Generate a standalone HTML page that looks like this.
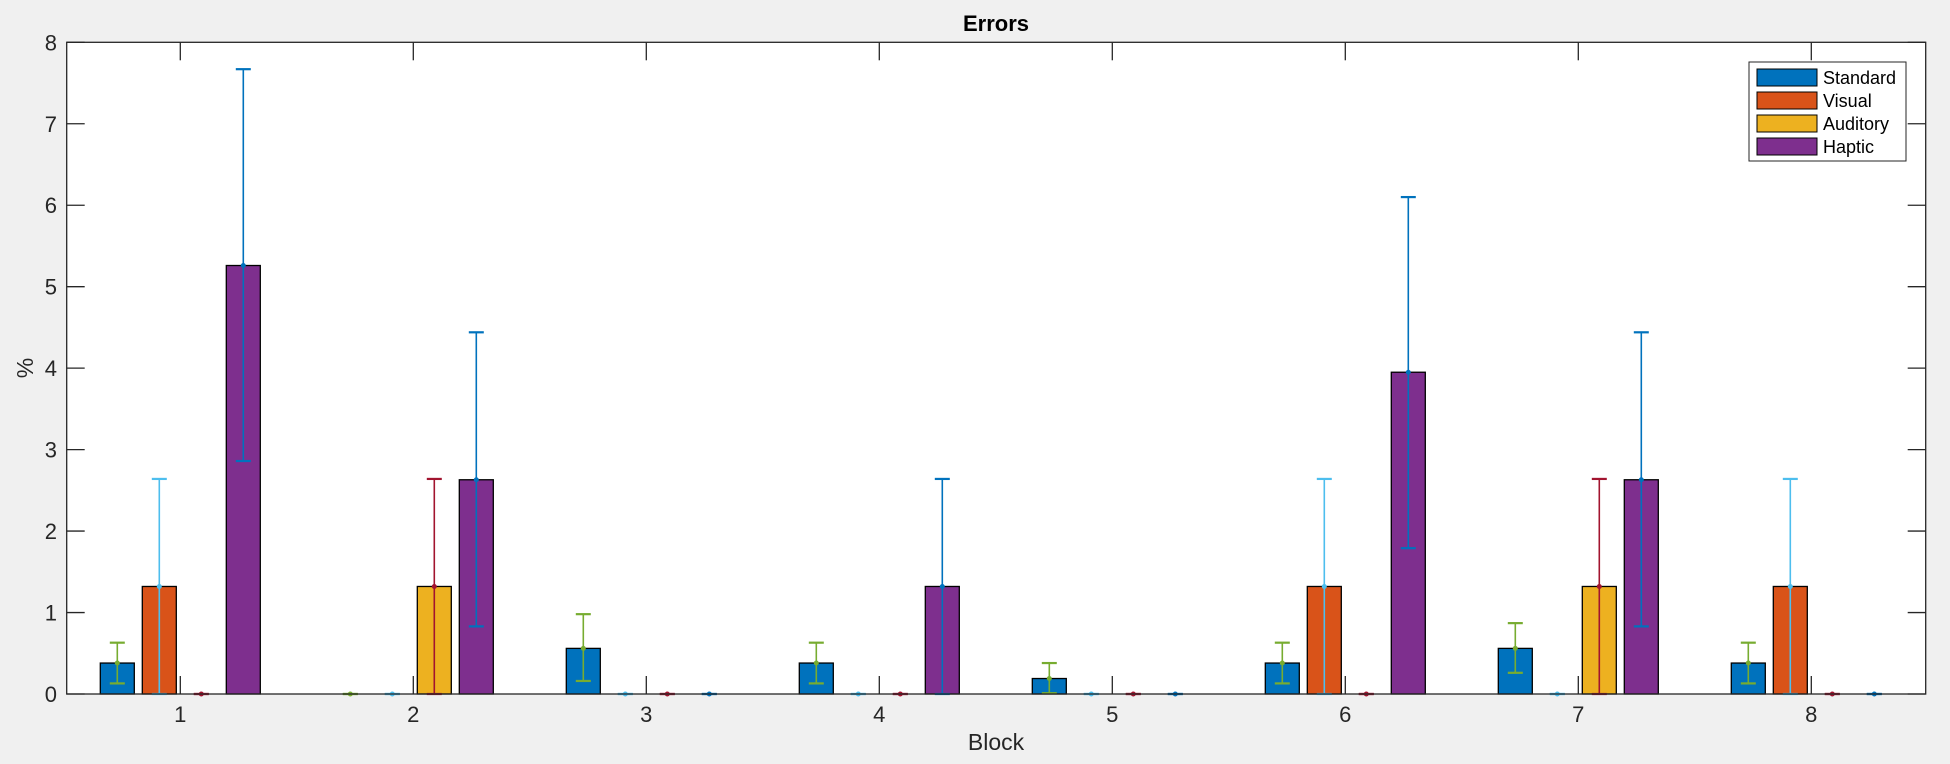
<!DOCTYPE html>
<html><head><meta charset="utf-8"><style>
html,body{margin:0;padding:0;background:#f0f0f0;}
svg{display:block;font-family:"Liberation Sans",Arial,sans-serif;}
</style></head><body>
<svg id="chart" width="1950" height="764" xmlns="http://www.w3.org/2000/svg">
<rect x="0" y="0" width="1950" height="764" fill="#f0f0f0"/>
<rect x="66.7" y="42.3" width="1859" height="651.7" fill="#fff"/>
<g id="marks"></g>
<g id="axes"></g>
<text x="996" y="31" text-anchor="middle" font-size="22" font-weight="bold" fill="#000">Errors</text>
<text x="996" y="750" text-anchor="middle" font-size="23" fill="#262626">Block</text>
<text transform="translate(33,368) rotate(-90)" text-anchor="middle" font-size="23" fill="#262626">%</text>
<g>
<rect x="1749" y="62" width="157" height="99" fill="#fff" stroke="#262626" stroke-width="1"/>
<g id="legend-items"></g>
</g>
</svg>
<script>
const categories = [1,2,3,4,5,6,7,8];
const seriesNames = ["Standard","Visual","Auditory","Haptic"];
const standard = [0.38,0,0.56,0.38,0.19,0.38,0.56,0.38];
const visual = [1.32,0,0,0,0,1.32,0,1.32];
const auditory = [0,1.32,0,0,0,0,1.32,0];
const haptic = [5.26,2.63,0,1.32,0,3.95,2.63,0];
const standardLow = [0.13,0,0.16,0.13,0.01,0.13,0.26,0.13];
const standardHigh = [0.63,0,0.98,0.63,0.38,0.63,0.87,0.63];
const visualLow = [0,0,0,0,0,0,0,0];
const visualHigh = [2.64,0,0,0,0,2.64,0,2.64];
const auditoryLow = [0,0,0,0,0,0,0,0];
const auditoryHigh = [0,2.64,0,0,0,0,2.64,0];
const hapticLow = [2.86,0.83,0,0,0,1.79,0.83,0];
const hapticHigh = [7.67,4.44,0,2.64,0,6.1,4.44,0];
const yTicks = [0,1,2,3,4,5,6,7,8];

const NS="http://www.w3.org/2000/svg";
const fills=["#0072BD","#D95319","#EDB120","#7E2F8E"];
const errColors=["#77AC30","#4DBEEE","#A2142F","#0072BD"];
const values=[standard,visual,auditory,haptic];
const lows=[standardLow,visualLow,auditoryLow,hapticLow];
const highs=[standardHigh,visualHigh,auditoryHigh,hapticHigh];
const X0=66.7,X1=1925.7,Y0=694,Y1=42.3;
function xs(v){return 180.3+(v-1)*233;}
function ys(v){return Y0-(v/8)*(Y0-Y1);}
function mk(tag,attrs,parent){const e=document.createElementNS(NS,tag);for(const k in attrs)e.setAttribute(k,attrs[k]);parent.appendChild(e);return e;}
const marks=document.getElementById('marks');
const offsets=[-63,-21,21,63];
const bw=34;
for(let s=0;s<4;s++){
  categories.forEach((c,i)=>{
    const cx=xs(c)+offsets[s];
    const v=values[s][i];
    if(v>0){
      const r=mk('rect',{x:cx-bw/2,y:ys(v),width:bw,height:Y0-ys(v),fill:fills[s],stroke:'#000','stroke-width':1.3},marks);
      
      
    }
  });
}
for(let s=0;s<4;s++){
  categories.forEach((c,i)=>{
    const cx=xs(c)+offsets[s];
    const g=mk('g',{stroke:errColors[s],'stroke-width':1.6,fill:errColors[s]},marks);
    
    
    const lo=ys(lows[s][i]),hi=ys(highs[s][i]),m=ys(values[s][i]);
    mk('line',{x1:cx,x2:cx,y1:lo,y2:hi},g);
    mk('line',{x1:cx-7.5,x2:cx+7.5,y1:lo,y2:lo,'stroke-width':2.2},g);
    mk('line',{x1:cx-7.5,x2:cx+7.5,y1:hi,y2:hi,'stroke-width':2.2},g);
    mk('circle',{cx:cx,cy:m,r:2.5,stroke:'none'},g);
  });
}
const axes=document.getElementById('axes');
mk('rect',{x:X0,y:Y1,width:X1-X0,height:Y0-Y1,fill:'none',stroke:'#262626','stroke-width':1.3},axes);
yTicks.forEach(t=>{
  const y=ys(t);
  const l=mk('line',{x1:X0,x2:X0+18,y1:y,y2:y,stroke:'#262626','stroke-width':1.3},axes);
  
  
  mk('line',{x1:X1,x2:X1-18,y1:y,y2:y,stroke:'#262626','stroke-width':1.3},axes);
  const tx=mk('text',{x:57,y:y+8,'text-anchor':'end','font-size':22,fill:'#262626'},axes);
  tx.textContent=t;
  
  
});
categories.forEach(c=>{
  const x=xs(c);
  mk('line',{x1:x,x2:x,y1:Y0,y2:Y0-18,stroke:'#262626','stroke-width':1.3},axes);
  mk('line',{x1:x,x2:x,y1:Y1,y2:Y1+18,stroke:'#262626','stroke-width':1.3},axes);
  const tx=mk('text',{x:x,y:722,'text-anchor':'middle','font-size':22,fill:'#262626'},axes);
  tx.textContent=c;
  
  
});
const leg=document.getElementById('legend-items');
seriesNames.forEach((n,i)=>{
  const y=69+i*23;
  const r=mk('rect',{x:1757,y:y,width:60,height:17,fill:fills[i],stroke:'#000','stroke-width':1},leg);
  
  
  const t=mk('text',{x:1823,y:y+15,'font-size':18,fill:'#000'},leg);
  t.textContent=n;
  
  
});
</script>
</body></html>
